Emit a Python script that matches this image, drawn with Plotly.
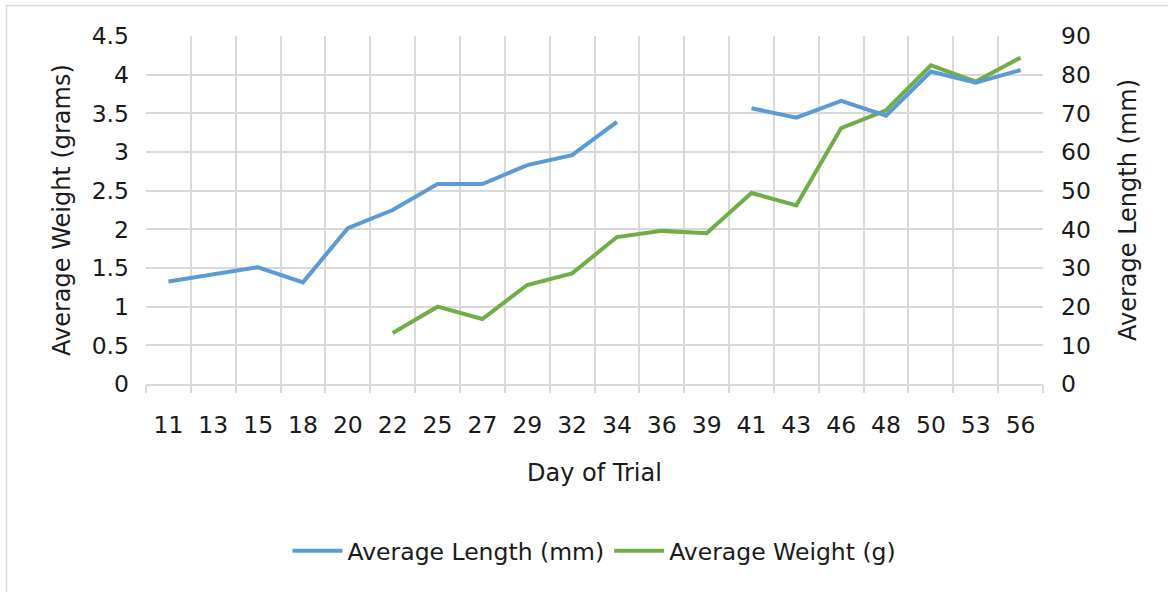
import plotly.graph_objects as go

# Day of trial (categorical x axis)
days = ["11", "13", "15", "18", "20", "22", "25", "27", "29", "32",
        "34", "36", "39", "41", "43", "46", "48", "50", "53", "56"]

# Average length in mm (right axis); None where no measurement was taken
avg_length_mm = [26.5, 28.3, 30.2, 26.3, 40.3, 45.0, 51.7, 51.7, 56.6, 59.2,
                 67.8, None, None, 71.3, 68.9, 73.2, 69.4, 80.8, 77.9, 81.2]

# Average weight in grams (left axis)
avg_weight_g = [None, None, None, None, None, 0.66, 1.00, 0.84, 1.28, 1.43,
                1.90, 1.98, 1.95, 2.47, 2.31, 3.31, 3.54, 4.12, 3.91, 4.22]

weight_ticks = [0, 0.5, 1, 1.5, 2, 2.5, 3, 3.5, 4, 4.5]
weight_labels = ["0", "0.5", "1", "1.5", "2", "2.5", "3", "3.5", "4", "4.5"]
length_ticks = [0, 10, 20, 30, 40, 50, 60, 70, 80, 90]

BLUE = "#5B9BD5"
GREEN = "#70AD47"
GRID = "#D9D9D9"
FONT = "DejaVu Sans, sans-serif"
TXT = "#1a1a1a"
SIZE = 23.5

fig = go.Figure()
fig.add_trace(go.Scatter(
    x=days, y=avg_length_mm, name="Average Length (mm)", mode="lines",
    line=dict(color=BLUE, width=4), yaxis="y2", connectgaps=False))
fig.add_trace(go.Scatter(
    x=days, y=avg_weight_g, name="Average Weight (g)", mode="lines",
    line=dict(color=GREEN, width=4), yaxis="y", connectgaps=False))

fig.update_layout(
    width=1168, height=592,
    margin=dict(l=146, r=125, t=36, b=208),
    paper_bgcolor="white", plot_bgcolor="white",
    font=dict(family=FONT, color=TXT, size=SIZE),
    showlegend=True,
    legend=dict(orientation="h", x=0.5, xanchor="center", y=-0.48, yanchor="middle",
                font=dict(size=SIZE, family=FONT, color=TXT), itemwidth=50,
                traceorder="normal"),
    xaxis=dict(
        type="category", range=[-0.5, 19.5], tickson="boundaries",
        showgrid=True, gridcolor=GRID, gridwidth=1.5,
        ticks="outside", ticklen=7, tickcolor=GRID, tickwidth=1.5,
        showline=True, linecolor=GRID, linewidth=1.5,
        tickfont=dict(size=SIZE, family=FONT, color=TXT),
        ticklabelstandoff=19,
        zeroline=False, fixedrange=True),
    yaxis=dict(
        range=[0, 4.5], tickvals=weight_ticks, ticktext=weight_labels,
        showgrid=True, gridcolor=GRID, gridwidth=1.5, zeroline=False,
        ticks="", tickfont=dict(size=SIZE, family=FONT, color=TXT),
        ticklabelstandoff=16, fixedrange=True),
    yaxis2=dict(
        range=[0, 90], tickvals=length_ticks, overlaying="y", side="right",
        showgrid=False, zeroline=False, ticks="",
        tickfont=dict(size=SIZE, family=FONT, color=TXT),
        ticklabelstandoff=17, fixedrange=True),
)

# axis titles
title_font = dict(size=SIZE + 0.5, family=FONT, color=TXT)
fig.add_annotation(text="Day of Trial", xref="paper", yref="paper",
                   x=0.5, y=-0.2557, xanchor="center", yanchor="middle",
                   showarrow=False, font=title_font)
fig.add_annotation(text="Average Weight (grams)", xref="paper", yref="paper",
                   x=-0.0936, y=0.5, xanchor="center", yanchor="middle",
                   textangle=-90, showarrow=False, font=title_font)
fig.add_annotation(text="Average Length (mm)", xref="paper", yref="paper",
                   x=1.0948, y=0.5, xanchor="center", yanchor="middle",
                   textangle=-90, showarrow=False, font=title_font)

# light frame around the chart area
fig.add_shape(type="rect", xref="paper", yref="paper",
              x0=-0.1555, x1=1.15, y0=-0.62, y1=1.0876,
              line=dict(color="#D9D9D9", width=1.5), fillcolor="rgba(0,0,0,0)", layer="below")

fig.write_html("out.html")
